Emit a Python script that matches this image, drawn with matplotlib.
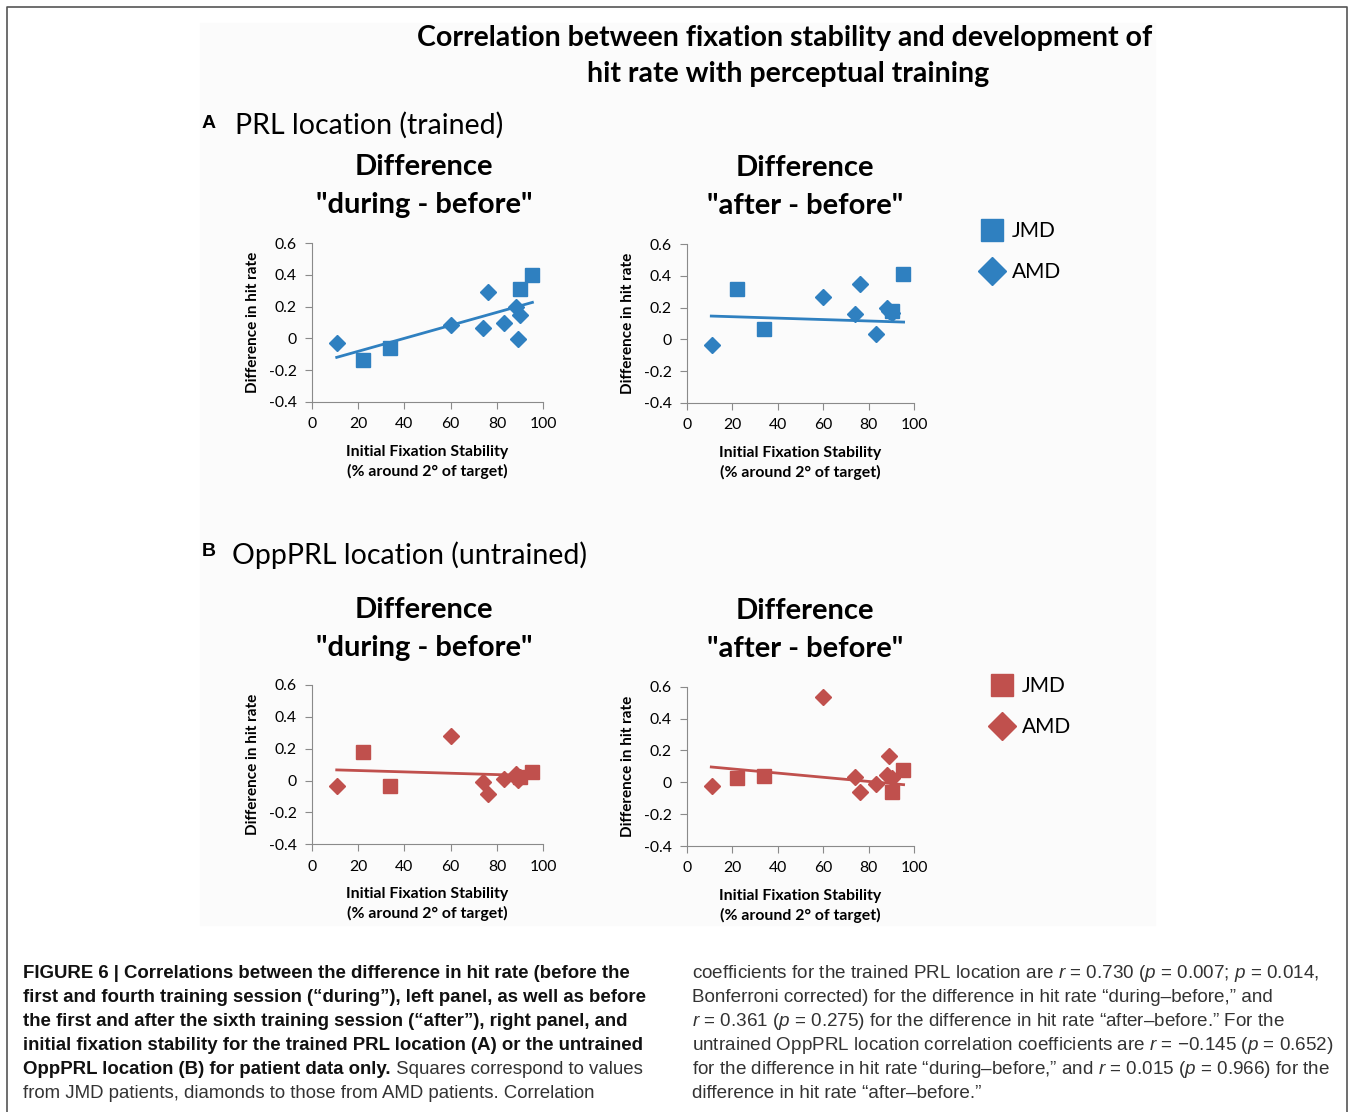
import numpy as np
import matplotlib as mpl
import matplotlib.pyplot as plt
from matplotlib.lines import Line2D
from matplotlib.patches import Rectangle

# initial fixation stability (% around 2 deg of target)
jmd_stab = [22, 34, 90, 95]
amd_stab = [11, 60, 74, 76, 83, 88, 89, 90]

# difference in hit rate, PRL location (trained)
prl_during_jmd = [-0.135, -0.06, 0.31, 0.40]
prl_during_amd = [-0.03, 0.085, 0.063, 0.295, 0.097, 0.196, -0.006, 0.15]
prl_after_jmd = [0.318, 0.065, 0.18, 0.41]
prl_after_amd = [-0.034, 0.27, 0.158, 0.35, 0.032, 0.20, 0.18, 0.164]

# difference in hit rate, OppPRL location (untrained)
opp_during_jmd = [0.178, -0.034, 0.025, 0.052]
opp_during_amd = [-0.034, 0.28, -0.006, -0.082, 0.008, 0.04, 0.004, 0.02]
opp_after_jmd = [0.025, 0.04, -0.06, 0.076]
opp_after_amd = [-0.021, 0.533, 0.031, -0.063, -0.008, 0.046, 0.162, 0.03]

# linear trend lines as drawn in the figure (value at first and last x)
trend_x = [10.8, 95.3]
prl_during_trend = [-0.12, 0.227]
prl_after_trend = [0.147, 0.109]
opp_during_trend = [0.067, 0.031]
opp_after_trend = [0.096, -0.015]

xticks = [0, 20, 40, 60, 80, 100]
yticks = [-0.4, -0.2, 0, 0.2, 0.4, 0.6]
ytick_labels = ['-0.4', '-0.2', '0', '0.2', '0.4', '0.6']

BLUE = '#2f80c0'
RED = '#c0504d'
W, H = 1350, 1112
CHART_FONT = ['Lato', 'DejaVu Sans']
CAP_FONT = ['Liberation Sans', 'DejaVu Sans']

mpl.rcParams['mathtext.fontset'] = 'custom'
mpl.rcParams['mathtext.it'] = 'Liberation Sans:italic'
mpl.rcParams['mathtext.rm'] = 'Liberation Sans'

fig = plt.figure(figsize=(W / 100, H / 100), dpi=100)


def fx(x):
    return x / W


def fy(y):
    return 1 - y / H


# light background of the chart image and outer frame
fig.patches.append(Rectangle((fx(200), fy(925)), fx(955), (925 - 23) / H,
                             transform=fig.transFigure, color='#fbfbfb', zorder=-5))
fig.add_artist(Line2D([fx(7), fx(7), fx(1347), fx(1347)], [0, fy(7), fy(7), 0],
                      transform=fig.transFigure, color='#555555', lw=1.2))

fig.text(fx(785), fy(38), 'Correlation between fixation stability and development of',
         ha='center', va='center', fontsize=20.5, fontweight='bold', family=CHART_FONT)
fig.text(fx(788), fy(74), 'hit rate with perceptual training',
         ha='center', va='center', fontsize=20.5, fontweight='bold', family=CHART_FONT)

fig.text(fx(202), fy(124), 'A', ha='left', va='center', fontsize=14, fontweight='bold',
         family=['Liberation Sans'])
fig.text(fx(235), fy(125), 'PRL location (trained)', ha='left', va='center', fontsize=20.5,
         family=CHART_FONT)
fig.text(fx(202), fy(552), 'B', ha='left', va='center', fontsize=14, fontweight='bold',
         family=['Liberation Sans'])
fig.text(fx(232), fy(555), 'OppPRL location (untrained)', ha='left', va='center', fontsize=20.5,
         family=CHART_FONT)


def panel(box, title_x, title_y, title, jy, ay, trend, color):
    left, top, right, bottom = box
    ax = fig.add_axes([fx(left), fy(bottom), fx(right - left), (bottom - top) / H])
    ax.set_facecolor('none')
    ax.plot(trend_x, trend, color=color, lw=2, zorder=2)
    ax.plot(jmd_stab, jy, 's', color=color, markersize=9.5, zorder=3)
    ax.plot(amd_stab, ay, 'D', color=color, markersize=8.5, zorder=4)
    ax.set_xlim(0, 100)
    ax.set_ylim(-0.4, 0.6)
    ax.set_xticks(xticks)
    ax.set_yticks(yticks)
    ax.set_yticklabels(ytick_labels)
    for s in ['top', 'right']:
        ax.spines[s].set_visible(False)
    for s in ['left', 'bottom']:
        ax.spines[s].set_color('#8a8a8a')
    ax.tick_params(direction='out', length=5, color='#8a8a8a', labelsize=11.3, pad=6)
    for lab in ax.get_xticklabels() + ax.get_yticklabels():
        lab.set_family(CHART_FONT)
    ax.set_ylabel('Difference in hit rate', fontsize=11, fontweight='bold',
                  family=CHART_FONT, labelpad=6)
    ax.set_xlabel('Initial Fixation Stability\n(% around 2° of target)', fontsize=11.4,
                  fontweight='bold', family=CHART_FONT, labelpad=10, linespacing=1.4)
    fig.text(fx(title_x), fy(title_y), title, ha='center', va='center', fontsize=21,
             fontweight='bold', family=CHART_FONT, linespacing=1.55)
    return ax


panel((311.7, 243.3, 543.3, 401.7), 424, 186, 'Difference\n"during - before"',
      prl_during_jmd, prl_during_amd, prl_during_trend, BLUE)
panel((686.7, 244.3, 914.3, 402.7), 805, 187, 'Difference\n"after - before"',
      prl_after_jmd, prl_after_amd, prl_after_trend, BLUE)
panel((311.7, 685.0, 543.3, 844.3), 424, 629, 'Difference\n"during - before"',
      opp_during_jmd, opp_during_amd, opp_during_trend, RED)
panel((686.7, 686.7, 914.3, 846.0), 805, 630, 'Difference\n"after - before"',
      opp_after_jmd, opp_after_amd, opp_after_trend, RED)


def legend(x, y, color):
    handles = [Line2D([], [], marker='s', ls='none', color=color, markersize=16),
               Line2D([], [], marker='D', ls='none', color=color, markersize=14)]
    fig.legend(handles, ['JMD', 'AMD'], loc='upper left', bbox_to_anchor=(fx(x), fy(y)),
               frameon=False, prop={'family': CHART_FONT, 'size': 15},
               handletextpad=0.35, labelspacing=1.0, handlelength=1.2, borderpad=0)


legend(969, 211, BLUE)
legend(979, 666, RED)

# caption, left column: bold part then regular part on the same line
cap_left = [
    ('FIGURE 6 | Correlations between the difference in hit rate (before the', ''),
    ('first and fourth training session (“during”), left panel, as well as before', ''),
    ('the first and after the sixth training session (“after”), right panel, and', ''),
    ('initial fixation stability for the trained PRL location (A) or the untrained', ''),
    ('OppPRL location (B) for patient data only.', ' Squares correspond to values'),
    ('', 'from JMD patients, diamonds to those from AMD patients. Correlation'),
]
cap_right = [
    r'coefficients for the trained PRL location are $r$ = 0.730 ($p$ = 0.007; $p$ = 0.014,',
    'Bonferroni corrected) for the difference in hit rate “during–before,” and',
    r'$r$ = 0.361 ($p$ = 0.275) for the difference in hit rate “after–before.” For the',
    r'untrained OppPRL location correlation coefficients are $r$ = −0.145 ($p$ = 0.652)',
    r'for the difference in hit rate “during–before,” and $r$ = 0.015 ($p$ = 0.966) for the',
    'difference in hit rate “after–before.”',
]

fig.canvas.draw()
renderer = fig.canvas.get_renderer()
for i, (bold, reg) in enumerate(cap_left):
    y = fy(973 + 24 * i)
    x = fx(23)
    if bold:
        t = fig.text(x, y, bold, ha='left', va='center', fontsize=13.4, fontweight='bold',
                     family=CAP_FONT, color='#111111')
        bb = t.get_window_extent(renderer)
        x = bb.x1 / W
    if reg:
        fig.text(x, y, reg, ha='left', va='center', fontsize=13.4, family=CAP_FONT,
                 color='#333333')
for i, line in enumerate(cap_right):
    fig.text(fx(692), fy(973 + 24 * i), line, ha='left', va='center', fontsize=13.55,
             family=CAP_FONT, color='#333333')

plt.savefig('out.png', dpi=100)
plt.close()
